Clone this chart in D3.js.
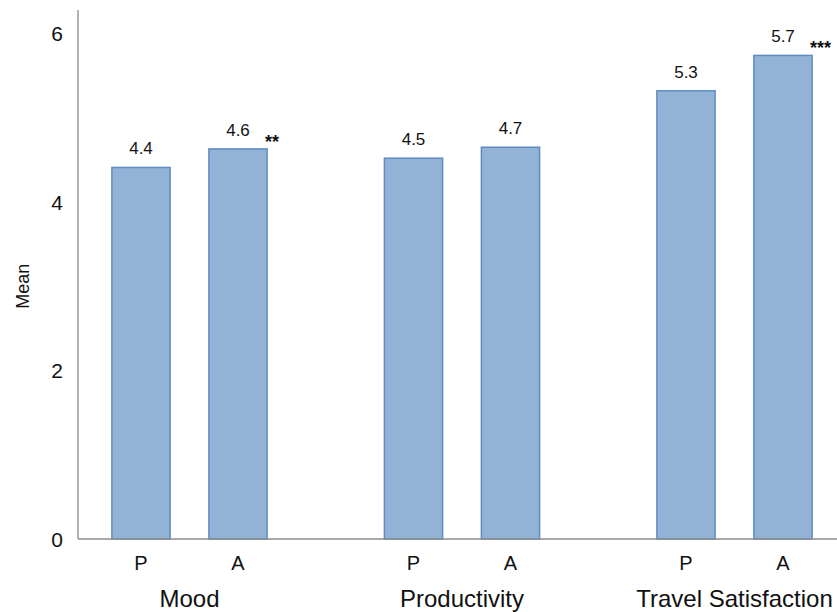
<!DOCTYPE html>
<html lang="en">
<head>
<meta charset="UTF-8">
<title>Mean by measure</title>
<script src="https://d3js.org/d3.v7.min.js"></script>
<style>
  body { margin: 0; background: #fff; }
  text { font-family: "Liberation Sans", Arial, sans-serif; fill: #111; }
</style>
</head>
<body>
<div id="chart"></div>
<script>

// data
const groups = ["Mood", "Productivity", "Travel Satisfaction"];
const conditions = ["P", "A"];
const meansP = [4.41, 4.52, 5.32];
const meansA = [4.63, 4.65, 5.74];
const valueLabels = [["4.4", "4.6"], ["4.5", "4.7"], ["5.3", "5.7"]];
const stars = ["**", "", "***"];
const yTicks = [0, 2, 4, 6];

const width = 837;
const height = 612;

const svg = d3.select("#chart")
  .append("svg")
    .attr("width", width)
    .attr("height", height);

// scales
const y = d3.scaleLinear()
  .domain([0, 6])
  .range([539, 33.5]);

const x0 = d3.scaleBand()
  .domain(groups)
  .range([53.25, 870.75]);

const x1 = d3.scaleBand()
  .domain(conditions)
  .range([39.25, 233.25])
  .paddingInner(0.4)
  .paddingOuter(0.2);

const rows = [];
groups.forEach((g, i) => {
  rows.push({ group: g, cond: "P", value: meansP[i], label: valueLabels[i][0], star: "" });
  rows.push({ group: g, cond: "A", value: meansA[i], label: valueLabels[i][1], star: stars[i] });
});

// y axis
svg.append("line")
  .attr("x1", 78).attr("x2", 78)
  .attr("y1", 10).attr("y2", y(0))
  .attr("stroke", "#8c8c8c")
  .attr("stroke-width", 1.3);

svg.selectAll(".ytick")
  .data(yTicks)
  .enter()
  .append("text")
  .attr("class", "ytick")
  .attr("x", 63)
  .attr("y", d => y(d))
  .attr("text-anchor", "end")
  .attr("dominant-baseline", "central")
  .style("font-size", "21px")
  .text(d => d);

svg.append("text")
  .attr("transform", "translate(29," + y(3) + ") rotate(-90)")
  .attr("text-anchor", "middle")
  .style("font-size", "18px")
  .text("Mean");

// bars
const bx = d => x0(d.group) + x1(d.cond);

svg.selectAll(".bar")
  .data(rows)
  .enter()
  .append("rect")
  .attr("class", "bar")
  .attr("x", d => bx(d))
  .attr("y", d => y(d.value))
  .attr("width", x1.bandwidth())
  .attr("height", d => y(0) - y(d.value))
  .attr("fill", "#92b2d6")
  .attr("stroke", "#5f8cc3")
  .attr("stroke-width", 1.5);

// value labels
svg.selectAll(".vlabel")
  .data(rows)
  .enter()
  .append("text")
  .attr("class", "vlabel")
  .attr("x", d => bx(d) + x1.bandwidth() / 2)
  .attr("y", d => y(d.value) - 13)
  .attr("text-anchor", "middle")
  .style("font-size", "17px")
  .text(d => d.label);

// significance stars
svg.selectAll(".star")
  .data(rows.filter(d => d.star))
  .enter()
  .append("text")
  .attr("class", "star")
  .attr("x", d => bx(d) + x1.bandwidth() - 2)
  .attr("y", d => y(d.value) - 1)
  .style("font-size", "18px")
  .style("font-weight", "bold")
  .text(d => d.star);

// x axis
svg.append("line")
  .attr("x1", 78).attr("x2", width)
  .attr("y1", y(0)).attr("y2", y(0))
  .attr("stroke", "#8c8c8c")
  .attr("stroke-width", 1.3);

svg.selectAll(".cond")
  .data(rows)
  .enter()
  .append("text")
  .attr("class", "cond")
  .attr("x", d => bx(d) + x1.bandwidth() / 2)
  .attr("y", 570)
  .attr("text-anchor", "middle")
  .style("font-size", "20px")
  .text(d => d.cond);

svg.selectAll(".glabel")
  .data(groups)
  .enter()
  .append("text")
  .attr("class", "glabel")
  .attr("x", d => x0(d) + x1("P") + (x1("A") + x1.bandwidth() - x1("P")) / 2)
  .attr("y", 607)
  .attr("text-anchor", "middle")
  .style("font-size", "24px")
  .text(d => d);

</script>
</body>
</html>
